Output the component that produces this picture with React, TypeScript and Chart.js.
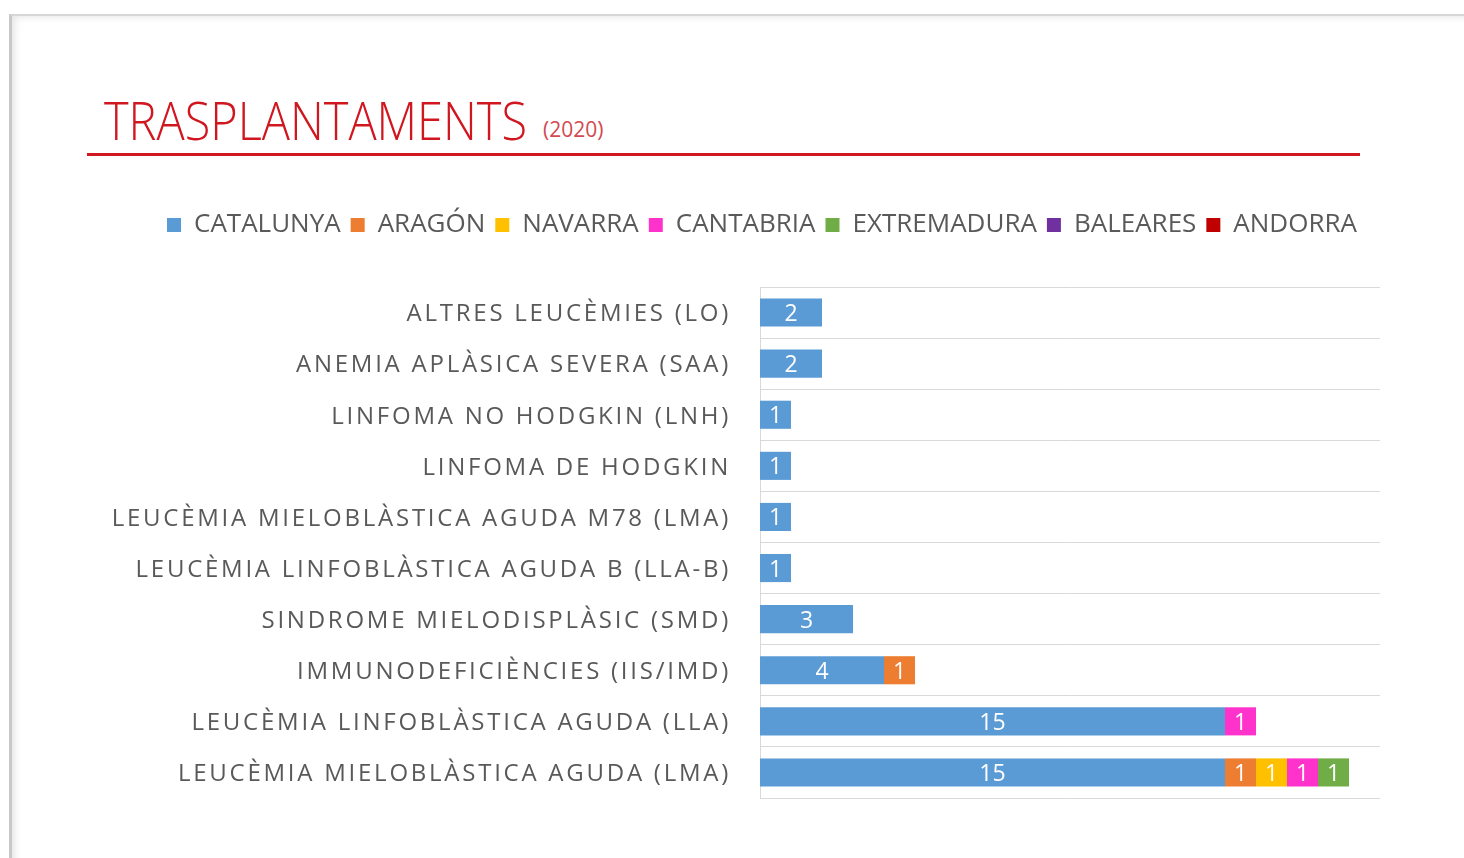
import React, { useEffect, useLayoutEffect, useRef } from "react";
import { Chart, registerables } from "chart.js";

Chart.register(...registerables);

// ---------- DATA ----------
const categories = [
  "ALTRES LEUCÈMIES (LO)",
  "ANEMIA APLÀSICA SEVERA (SAA)",
  "LINFOMA NO HODGKIN (LNH)",
  "LINFOMA DE HODGKIN",
  "LEUCÈMIA MIELOBLÀSTICA AGUDA M78 (LMA)",
  "LEUCÈMIA LINFOBLÀSTICA AGUDA B (LLA-B)",
  "SINDROME MIELODISPLÀSIC (SMD)",
  "IMMUNODEFICIÈNCIES (IIS/IMD)",
  "LEUCÈMIA LINFOBLÀSTICA AGUDA (LLA)",
  "LEUCÈMIA MIELOBLÀSTICA AGUDA (LMA)",
];

const catalunya = [2, 2, 1, 1, 1, 1, 3, 4, 15, 15];
const aragon = [null, null, null, null, null, null, null, 1, null, 1];
const navarra = [null, null, null, null, null, null, null, null, null, 1];
const cantabria = [null, null, null, null, null, null, null, null, 1, 1];
const extremadura = [null, null, null, null, null, null, null, null, null, 1];
const baleares = [null, null, null, null, null, null, null, null, null, null];
const andorra = [null, null, null, null, null, null, null, null, null, null];

const seriesNames = ["CATALUNYA", "ARAGÓN", "NAVARRA", "CANTABRIA", "EXTREMADURA", "BALEARES", "ANDORRA"];
const seriesValues = [catalunya, aragon, navarra, cantabria, extremadura, baleares, andorra];
const seriesColors = ["#5B9BD5", "#ED7D31", "#FFC000", "#FF33CC", "#70AD47", "#7030A0", "#C00000"];

const xMin = 0;
const xMax = 20;

const titleText = "TRASPLANTAMENTS";
const subtitleText = "(2020)";

// ---------- PLUGINS ----------
const segmentLabels = {
  id: "segmentLabels",
  afterDatasetsDraw(chart: any) {
    const ctx = chart.ctx;
    ctx.save();
    ctx.fillStyle = "#ffffff";
    ctx.font = '23px "Open Sans"';
    ctx.textAlign = "center";
    ctx.textBaseline = "middle";
    chart.data.datasets.forEach((ds: any, i: number) => {
      const meta = chart.getDatasetMeta(i);
      if (meta.hidden) return;
      meta.data.forEach((el: any, j: number) => {
        const v = ds.data[j];
        if (v == null || v === 0) return;
        const p = el.getProps(["x", "y", "base"], true);
        ctx.fillText(String(v), (p.x + p.base) / 2, p.y + 2);
      });
    });
    ctx.restore();
  },
};

const layoutTweaks = {
  id: "layoutTweaks",
  beforeUpdate(chart: any) {
    const lg = chart.legend;
    if (lg && !lg.__patched) {
      const orig = lg.fit.bind(lg);
      lg.fit = function () {
        orig();
        this.height += 39;
      };
      lg.__patched = true;
    }
  },
  beforeDraw(chart: any) {
    const s = chart.scales.y;
    if (s && !s.__patched) {
      const orig = s.drawLabels;
      s._computeLabelArea = function () {
        return undefined;
      };
      s.drawLabels = function (area: any) {
        const c = this.ctx;
        const prev = c.letterSpacing;
        c.letterSpacing = "2.75px";
        orig.call(this, area);
        c.letterSpacing = prev || "0px";
      };
      s.__patched = true;
    }
  },
};

export default function App() {
  const canvasRef = useRef<HTMLCanvasElement | null>(null);
  const titleRef = useRef<HTMLSpanElement | null>(null);

  useLayoutEffect(() => {
    const el = titleRef.current;
    if (el) {
      el.style.transform = "none";
      const w = el.getBoundingClientRect().width;
      if (w > 0) el.style.transform = `scaleX(${423 / w})`;
    }
  }, []);

  useEffect(() => {
    if (!canvasRef.current) return;
    const chart = new Chart(canvasRef.current, {
      type: "bar",
      data: {
        labels: categories,
        datasets: seriesNames.map((name, i) => ({
          label: name,
          data: seriesValues[i] as any,
          backgroundColor: seriesColors[i],
          borderWidth: 0,
          barPercentage: 0.55,
          categoryPercentage: 1,
        })),
      },
      options: {
        indexAxis: "y",
        animation: false,
        responsive: false,
        devicePixelRatio: 1,
        layout: { padding: { left: 84, right: 84, top: 0, bottom: 12 } },
        plugins: {
          tooltip: { enabled: false },
          legend: {
            display: true,
            position: "top",
            align: "center",
            labels: {
              boxWidth: 14,
              boxHeight: 14,
              padding: 10,
              color: "#595959",
              font: { family: "Open Sans", size: 26 },
            },
          },
        },
        scales: {
          x: {
            type: "linear",
            stacked: true,
            min: xMin,
            max: xMax,
            display: false,
          },
          y: {
            stacked: true,
            afterFit: (scale: any) => {
              scale.width = 616;
              scale.paddingTop = 0;
              scale.paddingBottom = 0;
            },
            grid: {
              display: true,
              color: "#d9d9d9",
              lineWidth: 1,
              drawTicks: false,
              offset: true,
            },
            border: { display: true, color: "#d9d9d9", width: 1 },
            ticks: {
              padding: 29,
              labelOffset: 2,
              color: "#595959",
              font: { family: "Open Sans", size: 24 },
            },
          },
        },
      },
      plugins: [segmentLabels, layoutTweaks],
    });
    return () => chart.destroy();
  }, []);

  return (
    <div style={{ position: "fixed", left: 0, top: 0, width: 1464, height: 858, background: "#ffffff", overflow: "hidden" }}>
      <div
        style={{
          position: "absolute",
          left: 9,
          top: 14,
          width: 1500,
          height: 900,
          borderLeft: "3px solid #c8c8c8",
          borderTop: "2px solid #d6d6d6",
          boxShadow: "inset 6px 4px 8px -4px rgba(0,0,0,0.12)",
          boxSizing: "border-box",
        }}
      />
      <span
        ref={titleRef}
        style={{
          position: "absolute",
          left: 104,
          top: 93,
          fontFamily: "'Open Sans'",
          fontWeight: 300,
          fontSize: 53,
          lineHeight: 1,
          color: "#d0161e",
          whiteSpace: "nowrap",
          transformOrigin: "left top",
          display: "inline-block",
        }}
      >
        {titleText}
      </span>
      <span
        style={{
          position: "absolute",
          left: 543,
          top: 119,
          fontFamily: "'Open Sans'",
          fontWeight: 400,
          fontSize: 21,
          lineHeight: 1,
          color: "#d24a50",
          whiteSpace: "nowrap",
        }}
      >
        {subtitleText}
      </span>
      <div style={{ position: "absolute", left: 87, top: 153, width: 1273, height: 3, background: "#d0161e" }} />
      <canvas
        ref={canvasRef}
        width={1404}
        height={608}
        style={{ position: "absolute", left: 60, top: 202, width: 1404, height: 608 }}
      />
    </div>
  );
}
